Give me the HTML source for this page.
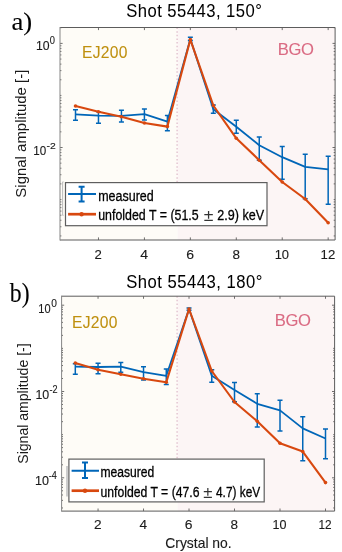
<!DOCTYPE html>
<html><head><meta charset="utf-8"><style>
html,body{margin:0;padding:0;background:#fff;width:342px;height:552px;overflow:hidden}
svg{display:block;filter:blur(0.3px)}
</style></head><body>
<svg width="342" height="552" viewBox="0 0 342 552">
<rect width="342" height="552" fill="#fff"/>
<rect x="60" y="27.5" width="117.69999999999999" height="212.5" fill="#FEFCF7"/>
<rect x="177.7" y="27.5" width="157.40000000000003" height="212.5" fill="#FCF5F5"/>
<line x1="177.1" y1="27.5" x2="177.1" y2="190" stroke="#dfbccb" stroke-width="1.3" stroke-dasharray="1.5 2.15"/>
<path d="M98.47 240.0v-2.6M98.47 27.5v2.6M144.41 240.0v-2.6M144.41 27.5v2.6M190.35 240.0v-2.6M190.35 27.5v2.6M236.29 240.0v-2.6M236.29 27.5v2.6M282.23 240.0v-2.6M282.23 27.5v2.6M328.17 240.0v-2.6M328.17 27.5v2.6M60 235.93h1.4M335.1 235.93h-1.4M60 226.77h1.4M335.1 226.77h-1.4M60 220.26h1.4M335.1 220.26h-1.4M60 215.22h1.4M335.1 215.22h-1.4M60 211.10h1.4M335.1 211.10h-1.4M60 207.61h1.4M335.1 207.61h-1.4M60 204.59h1.4M335.1 204.59h-1.4M60 201.93h1.4M335.1 201.93h-1.4M60 199.55h1.4M335.1 199.55h-1.4M60 183.88h1.4M335.1 183.88h-1.4M60 174.72h1.4M335.1 174.72h-1.4M60 168.21h1.4M335.1 168.21h-1.4M60 163.17h1.4M335.1 163.17h-1.4M60 159.05h1.4M335.1 159.05h-1.4M60 155.56h1.4M335.1 155.56h-1.4M60 152.54h1.4M335.1 152.54h-1.4M60 149.88h1.4M335.1 149.88h-1.4M60 147.50h2.6M335.1 147.50h-2.6M60 131.83h1.4M335.1 131.83h-1.4M60 122.67h1.4M335.1 122.67h-1.4M60 116.16h1.4M335.1 116.16h-1.4M60 111.12h1.4M335.1 111.12h-1.4M60 107.00h1.4M335.1 107.00h-1.4M60 103.51h1.4M335.1 103.51h-1.4M60 100.49h1.4M335.1 100.49h-1.4M60 97.83h1.4M335.1 97.83h-1.4M60 95.45h1.4M335.1 95.45h-1.4M60 79.78h1.4M335.1 79.78h-1.4M60 70.62h1.4M335.1 70.62h-1.4M60 64.11h1.4M335.1 64.11h-1.4M60 59.07h1.4M335.1 59.07h-1.4M60 54.95h1.4M335.1 54.95h-1.4M60 51.46h1.4M335.1 51.46h-1.4M60 48.44h1.4M335.1 48.44h-1.4M60 45.78h1.4M335.1 45.78h-1.4M60 43.40h2.6M335.1 43.40h-2.6M60 27.73h1.4M335.1 27.73h-1.4" stroke="#333" stroke-width="0.7" fill="none"/>
<path d="M60 27.5H335.1V240.0H60" fill="none" stroke="#5c5c5c" stroke-width="1"/>
<path d="M60 27.0V240.5" fill="none" stroke="#858585" stroke-width="1"/>
<polyline points="75.50,114.40 98.47,115.60 121.44,115.80 144.41,114.20 167.38,121.60 190.35,39.00 213.32,109.20 236.29,126.70 259.26,145.20 282.23,157.20 305.20,166.80 328.17,169.30" fill="none" stroke="#0066B8" stroke-width="1.8" stroke-linejoin="round"/>
<path d="M75.50 109.70V120.30M73.00 109.70h5M73.00 120.30h5M98.47 111.70V123.20M95.97 111.70h5M95.97 123.20h5M121.44 110.20V121.90M118.94 110.20h5M118.94 121.90h5M144.41 109.00V120.10M141.91 109.00h5M141.91 120.10h5M167.38 115.50V130.80M164.88 115.50h5M164.88 130.80h5M190.35 37.20V40.50M187.85 37.20h5M187.85 40.50h5M213.32 105.00V113.30M210.82 105.00h5M210.82 113.30h5M236.29 120.20V133.20M233.79 120.20h5M233.79 133.20h5M259.26 137.10V160.30M256.76 137.10h5M256.76 160.30h5M282.23 146.40V179.20M279.73 146.40h5M279.73 179.20h5M305.20 154.30V198.80M302.70 154.30h5M302.70 198.80h5M328.17 156.30V204.20M325.67 156.30h5M325.67 204.20h5" stroke="#0066B8" stroke-width="1.5" fill="none"/>
<polyline points="75.50,106.00 98.47,111.70 121.44,116.80 144.41,123.00 167.38,126.60 190.35,39.60 213.32,105.50 236.29,138.30 259.26,160.20 282.23,182.00 305.20,199.00 328.17,222.80" fill="none" stroke="#D8480F" stroke-width="2.1" stroke-linejoin="round"/>
<circle cx="75.50" cy="106.00" r="1.8" fill="#D8480F"/>
<circle cx="98.47" cy="111.70" r="1.8" fill="#D8480F"/>
<circle cx="121.44" cy="116.80" r="1.8" fill="#D8480F"/>
<circle cx="144.41" cy="123.00" r="1.8" fill="#D8480F"/>
<circle cx="167.38" cy="126.60" r="1.8" fill="#D8480F"/>
<circle cx="190.35" cy="39.60" r="1.8" fill="#D8480F"/>
<circle cx="213.32" cy="105.50" r="1.8" fill="#D8480F"/>
<circle cx="236.29" cy="138.30" r="1.8" fill="#D8480F"/>
<circle cx="259.26" cy="160.20" r="1.8" fill="#D8480F"/>
<circle cx="282.23" cy="182.00" r="1.8" fill="#D8480F"/>
<circle cx="305.20" cy="199.00" r="1.8" fill="#D8480F"/>
<circle cx="328.17" cy="222.80" r="1.8" fill="#D8480F"/>
<rect x="61.6" y="296.2" width="116.1" height="214.90000000000003" fill="#FEFCF7"/>
<rect x="177.7" y="296.2" width="156.90000000000003" height="214.90000000000003" fill="#FCF5F5"/>
<line x1="177.1" y1="296.2" x2="177.1" y2="470" stroke="#dfbccb" stroke-width="1.3" stroke-dasharray="1.5 2.15"/>
<path d="M98.05 511.1v-2.6M98.05 296.2v2.6M143.53 511.1v-2.6M143.53 296.2v2.6M189.03 511.1v-2.6M189.03 296.2v2.6M234.51 511.1v-2.6M234.51 296.2v2.6M280.00 511.1v-2.6M280.00 296.2v2.6M325.50 511.1v-2.6M325.50 296.2v2.6M61.6 507.96h1.4M334.6 507.96h-1.4M61.6 500.36h1.4M334.6 500.36h-1.4M61.6 494.97h1.4M334.6 494.97h-1.4M61.6 490.79h1.4M334.6 490.79h-1.4M61.6 487.37h1.4M334.6 487.37h-1.4M61.6 484.48h1.4M334.6 484.48h-1.4M61.6 481.98h1.4M334.6 481.98h-1.4M61.6 479.77h1.4M334.6 479.77h-1.4M61.6 477.80h2.6M334.6 477.80h-2.6M61.6 464.81h1.4M334.6 464.81h-1.4M61.6 457.21h1.4M334.6 457.21h-1.4M61.6 451.82h1.4M334.6 451.82h-1.4M61.6 447.64h1.4M334.6 447.64h-1.4M61.6 444.22h1.4M334.6 444.22h-1.4M61.6 441.33h1.4M334.6 441.33h-1.4M61.6 438.83h1.4M334.6 438.83h-1.4M61.6 436.62h1.4M334.6 436.62h-1.4M61.6 434.65h1.4M334.6 434.65h-1.4M61.6 421.66h1.4M334.6 421.66h-1.4M61.6 414.06h1.4M334.6 414.06h-1.4M61.6 408.67h1.4M334.6 408.67h-1.4M61.6 404.49h1.4M334.6 404.49h-1.4M61.6 401.07h1.4M334.6 401.07h-1.4M61.6 398.18h1.4M334.6 398.18h-1.4M61.6 395.68h1.4M334.6 395.68h-1.4M61.6 393.47h1.4M334.6 393.47h-1.4M61.6 391.50h2.6M334.6 391.50h-2.6M61.6 378.51h1.4M334.6 378.51h-1.4M61.6 370.91h1.4M334.6 370.91h-1.4M61.6 365.52h1.4M334.6 365.52h-1.4M61.6 361.34h1.4M334.6 361.34h-1.4M61.6 357.92h1.4M334.6 357.92h-1.4M61.6 355.03h1.4M334.6 355.03h-1.4M61.6 352.53h1.4M334.6 352.53h-1.4M61.6 350.32h1.4M334.6 350.32h-1.4M61.6 348.35h1.4M334.6 348.35h-1.4M61.6 335.36h1.4M334.6 335.36h-1.4M61.6 327.76h1.4M334.6 327.76h-1.4M61.6 322.37h1.4M334.6 322.37h-1.4M61.6 318.19h1.4M334.6 318.19h-1.4M61.6 314.77h1.4M334.6 314.77h-1.4M61.6 311.88h1.4M334.6 311.88h-1.4M61.6 309.38h1.4M334.6 309.38h-1.4M61.6 307.17h1.4M334.6 307.17h-1.4M61.6 305.20h2.6M334.6 305.20h-2.6" stroke="#333" stroke-width="0.7" fill="none"/>
<path d="M61.6 296.2H334.6V511.1H61.6" fill="none" stroke="#5c5c5c" stroke-width="1"/>
<path d="M61.6 295.7V511.6" fill="none" stroke="#858585" stroke-width="1"/>
<polyline points="75.30,366.70 98.05,367.00 120.79,366.70 143.53,372.20 166.28,375.80 189.03,309.00 211.77,375.80 234.51,390.00 257.26,403.80 280.00,410.40 302.75,428.40 325.50,438.50" fill="none" stroke="#0066B8" stroke-width="1.8" stroke-linejoin="round"/>
<path d="M75.30 363.70V374.20M72.80 363.70h5M72.80 374.20h5M98.05 363.30V373.70M95.55 363.30h5M95.55 373.70h5M120.79 362.50V372.30M118.29 362.50h5M118.29 372.30h5M143.53 366.70V380.00M141.03 366.70h5M141.03 380.00h5M166.28 369.00V384.60M163.78 369.00h5M163.78 384.60h5M189.03 308.00V310.30M186.53 308.00h5M186.53 310.30h5M211.77 369.70V382.30M209.27 369.70h5M209.27 382.30h5M234.51 382.50V401.70M232.01 382.50h5M232.01 401.70h5M257.26 393.80V427.00M254.76 393.80h5M254.76 427.00h5M280.00 400.30V431.00M277.50 400.30h5M277.50 431.00h5M302.75 416.70V460.70M300.25 416.70h5M300.25 460.70h5M325.50 428.90V458.70M323.00 428.90h5M323.00 458.70h5" stroke="#0066B8" stroke-width="1.5" fill="none"/>
<polyline points="75.30,363.00 98.05,369.70 120.79,374.20 143.53,378.70 166.28,382.30 189.03,309.00 211.77,371.00 234.51,402.00 257.26,421.30 280.00,443.30 302.75,451.60 325.50,482.60" fill="none" stroke="#D8480F" stroke-width="2.1" stroke-linejoin="round"/>
<circle cx="75.30" cy="363.00" r="1.8" fill="#D8480F"/>
<circle cx="98.05" cy="369.70" r="1.8" fill="#D8480F"/>
<circle cx="120.79" cy="374.20" r="1.8" fill="#D8480F"/>
<circle cx="143.53" cy="378.70" r="1.8" fill="#D8480F"/>
<circle cx="166.28" cy="382.30" r="1.8" fill="#D8480F"/>
<circle cx="189.03" cy="309.00" r="1.8" fill="#D8480F"/>
<circle cx="211.77" cy="371.00" r="1.8" fill="#D8480F"/>
<circle cx="234.51" cy="402.00" r="1.8" fill="#D8480F"/>
<circle cx="257.26" cy="421.30" r="1.8" fill="#D8480F"/>
<circle cx="280.00" cy="443.30" r="1.8" fill="#D8480F"/>
<circle cx="302.75" cy="451.60" r="1.8" fill="#D8480F"/>
<circle cx="325.50" cy="482.60" r="1.8" fill="#D8480F"/>
<path d="M63.6 181.9h-1V215.3h1" stroke="#b4b4b4" stroke-width="0.9" fill="none"/>
<path d="M67 465.9V496.6" stroke="#c8c8c8" stroke-width="1.8" fill="none"/>
<rect x="65.5" y="182.6" width="201.5" height="43.099999999999994" fill="#fff" stroke="#5e5e5e" stroke-width="1.2"/>
<path d="M68.1 194H96M81.6 186.8V201.6M78.6 186.8h6M78.6 201.6h6" stroke="#0066B8" stroke-width="2" fill="none"/>
<path d="M68.1 214.2H96" stroke="#D8480F" stroke-width="2.7" fill="none"/>
<circle cx="81.6" cy="214.2" r="2.2" fill="#D8480F"/>
<rect x="68.9" y="459.1" width="195.29999999999998" height="42.799999999999955" fill="#fff" stroke="#5e5e5e" stroke-width="1.2"/>
<path d="M71.6 470.8H99M85 462.5V478M82 462.5h6M82 478h6" stroke="#0066B8" stroke-width="2" fill="none"/>
<path d="M71.6 490.7H99" stroke="#D8480F" stroke-width="2.7" fill="none"/>
<circle cx="85" cy="490.7" r="2.2" fill="#D8480F"/>
<text x="11.47" y="30.40" font-size="26" font-family="'Liberation Serif', serif" fill="#000" stroke="#000" stroke-width="0.1" textLength="20.76" lengthAdjust="spacingAndGlyphs">a)</text>
<text transform="translate(126.20,17.20) scale(0.93,1)" x="0" y="0" font-size="17.9" font-family="'Liberation Sans', sans-serif" fill="#000" stroke="#000" stroke-width="0.03" letter-spacing="0.499">Shot 55443, 150°</text>
<text x="35.97" y="50.20" font-size="13.2" font-family="'Liberation Sans', sans-serif" fill="#1a1a1a" stroke="#1a1a1a" stroke-width="0.12" textLength="13.62" lengthAdjust="spacingAndGlyphs">10</text>
<text x="49.76" y="44.10" font-size="10.6" font-family="'Liberation Sans', sans-serif" fill="#1a1a1a" stroke="#1a1a1a" stroke-width="0.12" textLength="5.20" lengthAdjust="spacingAndGlyphs">0</text>
<text x="33.32" y="154.80" font-size="13.2" font-family="'Liberation Sans', sans-serif" fill="#1a1a1a" stroke="#1a1a1a" stroke-width="0.12" textLength="12.96" lengthAdjust="spacingAndGlyphs">10</text>
<text x="46.57" y="148.60" font-size="9.8" font-family="'Liberation Sans', sans-serif" fill="#1a1a1a" stroke="#1a1a1a" stroke-width="0.12" textLength="9.22" lengthAdjust="spacingAndGlyphs">-2</text>
<text transform="translate(82.02,57.60) scale(0.92,1)" x="0" y="0" font-size="17" font-family="'Liberation Sans', sans-serif" fill="#BF900F" stroke="#BF900F" stroke-width="0.08" letter-spacing="0.266">EJ200</text>
<text transform="translate(277.65,55.20) scale(1.0,1)" x="0" y="0" font-size="16.6" font-family="'Liberation Sans', sans-serif" fill="#DA6B83" stroke="#DA6B83" stroke-width="0.1" letter-spacing="-0.325">BGO</text>
<text x="94.56" y="258.80" font-size="13.7" font-family="'Liberation Sans', sans-serif" fill="#1a1a1a" stroke="#1a1a1a" stroke-width="0.12" textLength="7.32" lengthAdjust="spacingAndGlyphs">2</text>
<text x="140.38" y="258.80" font-size="13.7" font-family="'Liberation Sans', sans-serif" fill="#1a1a1a" stroke="#1a1a1a" stroke-width="0.12" textLength="7.84" lengthAdjust="spacingAndGlyphs">4</text>
<text x="186.23" y="258.80" font-size="13.7" font-family="'Liberation Sans', sans-serif" fill="#1a1a1a" stroke="#1a1a1a" stroke-width="0.12" textLength="7.81" lengthAdjust="spacingAndGlyphs">6</text>
<text x="232.47" y="258.80" font-size="13.7" font-family="'Liberation Sans', sans-serif" fill="#1a1a1a" stroke="#1a1a1a" stroke-width="0.12" textLength="7.51" lengthAdjust="spacingAndGlyphs">8</text>
<text x="274.67" y="258.80" font-size="13.7" font-family="'Liberation Sans', sans-serif" fill="#1a1a1a" stroke="#1a1a1a" stroke-width="0.12" textLength="14.40" lengthAdjust="spacingAndGlyphs">10</text>
<text x="320.62" y="258.80" font-size="13.7" font-family="'Liberation Sans', sans-serif" fill="#1a1a1a" stroke="#1a1a1a" stroke-width="0.12" textLength="14.67" lengthAdjust="spacingAndGlyphs">12</text>
<text transform="rotate(-90)" x="-197.68" y="26.00" font-size="14.4" font-family="'Liberation Sans', sans-serif" fill="#1a1a1a" stroke="#1a1a1a" stroke-width="0" textLength="128.05" lengthAdjust="spacingAndGlyphs">Signal amplitude [-]</text>
<text x="98.17" y="200.60" font-size="15.1" font-family="'Liberation Sans', sans-serif" fill="#000" stroke="#000" stroke-width="0.3" textLength="55.55" lengthAdjust="spacingAndGlyphs">measured</text>
<text x="98.20" y="220.10" font-size="15.4" font-family="'Liberation Sans', sans-serif" fill="#000" stroke="#000" stroke-width="0.3" textLength="100.45" lengthAdjust="spacingAndGlyphs">unfolded T = (51.5</text>
<text x="203.87" y="221.00" font-size="16.5" font-family="'Liberation Sans', sans-serif" fill="#333" stroke="#333" stroke-width="0" textLength="9.63" lengthAdjust="spacingAndGlyphs">±</text>
<text x="217.29" y="220.10" font-size="15.4" font-family="'Liberation Sans', sans-serif" fill="#000" stroke="#000" stroke-width="0.3" textLength="46.78" lengthAdjust="spacingAndGlyphs">2.9) keV</text>
<text x="9.80" y="302.40" font-size="26.5" font-family="'Liberation Serif', serif" fill="#000" stroke="#000" stroke-width="0.1" textLength="19.77" lengthAdjust="spacingAndGlyphs">b)</text>
<text transform="translate(126.20,287.50) scale(0.93,1)" x="0" y="0" font-size="17.9" font-family="'Liberation Sans', sans-serif" fill="#000" stroke="#000" stroke-width="0.03" letter-spacing="0.534">Shot 55443, 180°</text>
<text x="38.31" y="312.50" font-size="12.4" font-family="'Liberation Sans', sans-serif" fill="#1a1a1a" stroke="#1a1a1a" stroke-width="0.12" textLength="12.28" lengthAdjust="spacingAndGlyphs">10</text>
<text x="51.21" y="306.70" font-size="10.4" font-family="'Liberation Sans', sans-serif" fill="#1a1a1a" stroke="#1a1a1a" stroke-width="0.12" textLength="5.67" lengthAdjust="spacingAndGlyphs">0</text>
<text x="35.40" y="399.00" font-size="12.4" font-family="'Liberation Sans', sans-serif" fill="#1a1a1a" stroke="#1a1a1a" stroke-width="0.12" textLength="13.85" lengthAdjust="spacingAndGlyphs">10</text>
<text x="49.45" y="393.10" font-size="10.1" font-family="'Liberation Sans', sans-serif" fill="#1a1a1a" stroke="#1a1a1a" stroke-width="0.12" textLength="8.09" lengthAdjust="spacingAndGlyphs">-2</text>
<text x="35.09" y="484.80" font-size="12.4" font-family="'Liberation Sans', sans-serif" fill="#1a1a1a" stroke="#1a1a1a" stroke-width="0.12" textLength="13.97" lengthAdjust="spacingAndGlyphs">10</text>
<text x="48.85" y="479.10" font-size="10.1" font-family="'Liberation Sans', sans-serif" fill="#1a1a1a" stroke="#1a1a1a" stroke-width="0.12" textLength="8.06" lengthAdjust="spacingAndGlyphs">-4</text>
<text transform="translate(72.02,327.90) scale(0.92,1)" x="0" y="0" font-size="17" font-family="'Liberation Sans', sans-serif" fill="#BF900F" stroke="#BF900F" stroke-width="0.08" letter-spacing="0.266">EJ200</text>
<text transform="translate(274.75,326.30) scale(1.0,1)" x="0" y="0" font-size="16.6" font-family="'Liberation Sans', sans-serif" fill="#DA6B83" stroke="#DA6B83" stroke-width="0.1" letter-spacing="-0.375">BGO</text>
<text x="93.90" y="529.30" font-size="12.9" font-family="'Liberation Sans', sans-serif" fill="#1a1a1a" stroke="#1a1a1a" stroke-width="0.12" textLength="7.61" lengthAdjust="spacingAndGlyphs">2</text>
<text x="139.53" y="529.30" font-size="12.9" font-family="'Liberation Sans', sans-serif" fill="#1a1a1a" stroke="#1a1a1a" stroke-width="0.12" textLength="7.61" lengthAdjust="spacingAndGlyphs">4</text>
<text x="184.84" y="529.30" font-size="12.9" font-family="'Liberation Sans', sans-serif" fill="#1a1a1a" stroke="#1a1a1a" stroke-width="0.12" textLength="7.73" lengthAdjust="spacingAndGlyphs">6</text>
<text x="230.57" y="529.30" font-size="12.9" font-family="'Liberation Sans', sans-serif" fill="#1a1a1a" stroke="#1a1a1a" stroke-width="0.12" textLength="7.53" lengthAdjust="spacingAndGlyphs">8</text>
<text x="272.58" y="529.30" font-size="12.9" font-family="'Liberation Sans', sans-serif" fill="#1a1a1a" stroke="#1a1a1a" stroke-width="0.12" textLength="13.95" lengthAdjust="spacingAndGlyphs">10</text>
<text x="318.48" y="529.30" font-size="12.9" font-family="'Liberation Sans', sans-serif" fill="#1a1a1a" stroke="#1a1a1a" stroke-width="0.12" textLength="13.16" lengthAdjust="spacingAndGlyphs">12</text>
<text x="165.28" y="547.90" font-size="14.5" font-family="'Liberation Sans', sans-serif" fill="#1a1a1a" stroke="#1a1a1a" stroke-width="0.12" textLength="66.38" lengthAdjust="spacingAndGlyphs">Crystal no.</text>
<text transform="rotate(-90)" x="-463.73" y="28.20" font-size="14.4" font-family="'Liberation Sans', sans-serif" fill="#1a1a1a" stroke="#1a1a1a" stroke-width="0" textLength="120.35" lengthAdjust="spacingAndGlyphs">Signal amplitude [-]</text>
<text x="100.38" y="476.80" font-size="14.7" font-family="'Liberation Sans', sans-serif" fill="#000" stroke="#000" stroke-width="0.3" textLength="53.80" lengthAdjust="spacingAndGlyphs">measured</text>
<text x="100.40" y="497.40" font-size="15.3" font-family="'Liberation Sans', sans-serif" fill="#000" stroke="#000" stroke-width="0.3" textLength="99.14" lengthAdjust="spacingAndGlyphs">unfolded T = (47.6</text>
<text x="203.29" y="498.00" font-size="16.5" font-family="'Liberation Sans', sans-serif" fill="#333" stroke="#333" stroke-width="0" textLength="9.18" lengthAdjust="spacingAndGlyphs">±</text>
<text x="216.01" y="497.40" font-size="15.3" font-family="'Liberation Sans', sans-serif" fill="#000" stroke="#000" stroke-width="0.3" textLength="44.16" lengthAdjust="spacingAndGlyphs">4.7) keV</text>
</svg>
</body></html>
